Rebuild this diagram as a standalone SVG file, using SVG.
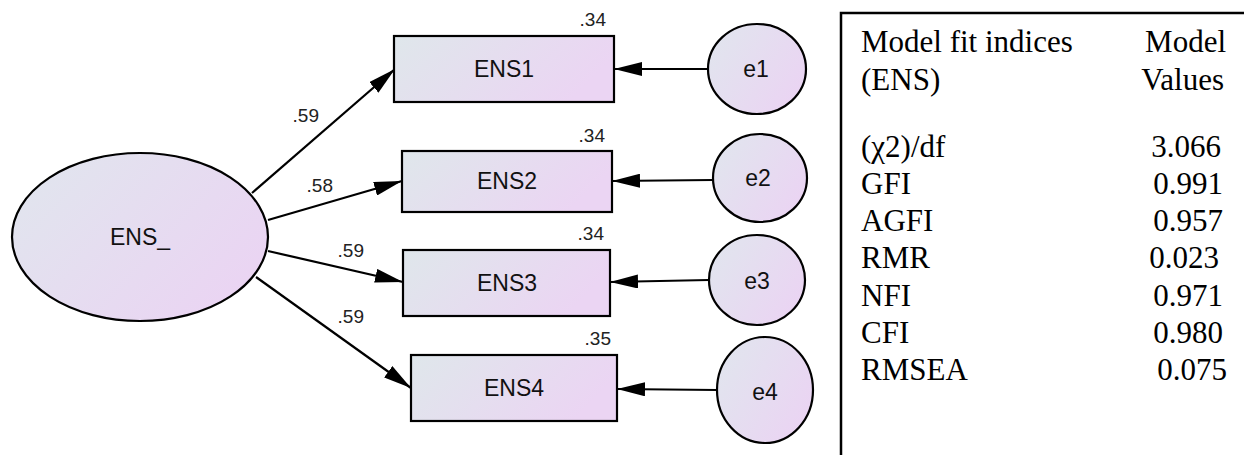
<svg xmlns="http://www.w3.org/2000/svg" width="1244" height="455" viewBox="0 0 1244 455">
<style>
.shape{stroke:#000;stroke-width:2.2}
.rect{fill:url(#gr)}
.ell{fill:url(#ge)}
.node{font-family:"Liberation Sans",Arial,sans-serif;font-size:23px;fill:#111;text-anchor:middle}
.lbl{font-family:"Liberation Sans",Arial,sans-serif;font-size:19px;fill:#222;text-anchor:end}
.conn line{stroke:#000;stroke-width:2.2;marker-end:url(#ah)}
.tbl{font-family:"Liberation Serif","Times New Roman",serif;font-size:31px;fill:#000}
.r{text-anchor:end}
</style>
<defs>
<linearGradient id="gr" x1="0" y1="0" x2="1" y2="0.3">
<stop offset="0" stop-color="#dfe7eb"/>
<stop offset="1" stop-color="#ebd5f3"/>
</linearGradient>
<linearGradient id="ge" x1="0" y1="0.2" x2="1" y2="0.8">
<stop offset="0" stop-color="#e1e5ee"/>
<stop offset="1" stop-color="#ebd3f3"/>
</linearGradient>
<marker id="ah" markerUnits="userSpaceOnUse" markerWidth="28" markerHeight="14" refX="28" refY="7" orient="auto" viewBox="0 0 28 14">
<path d="M0,0 L28,7 L0,14 z" fill="#000"/>
</marker>
</defs>
<rect width="1244" height="455" fill="#fff"/>

<g id="connectors" class="conn">
<line x1="252" y1="193" x2="395" y2="69"/>
<line x1="268" y1="220" x2="402" y2="181"/>
<line x1="268" y1="251" x2="403" y2="282"/>
<line x1="256" y1="277" x2="411" y2="388"/>
<line x1="708" y1="69" x2="614" y2="69"/>
<line x1="713" y1="180" x2="612" y2="181"/>
<line x1="709" y1="280" x2="610" y2="282"/>
<line x1="717" y1="390" x2="617" y2="389"/>
</g>

<g id="edge-labels">
<text class="lbl" x="319" y="122">.59</text>
<text class="lbl" x="333" y="192">.58</text>
<text class="lbl" x="364" y="257">.59</text>
<text class="lbl" x="364" y="323">.59</text>
</g>

<g id="ENS_">
<ellipse class="shape ell" cx="140" cy="237" rx="128" ry="84"/>
<text class="node" x="140" y="245">ENS_</text>
</g>

<g id="ENS1">
<rect class="shape rect" x="394" y="36" width="220" height="66"/>
<text class="node" x="504" y="77">ENS1</text>
<text class="lbl" x="606" y="26">.34</text>
</g>
<g id="ENS2">
<rect class="shape rect" x="402" y="151" width="210" height="61"/>
<text class="node" x="507" y="189">ENS2</text>
<text class="lbl" x="605" y="142">.34</text>
</g>
<g id="ENS3">
<rect class="shape rect" x="403" y="250" width="207" height="66"/>
<text class="node" x="507" y="291">ENS3</text>
<text class="lbl" x="604" y="240">.34</text>
</g>
<g id="ENS4">
<rect class="shape rect" x="411" y="355" width="206" height="66"/>
<text class="node" x="514" y="396">ENS4</text>
<text class="lbl" x="611" y="345">.35</text>
</g>

<g id="e1">
<ellipse class="shape ell" cx="757" cy="69" rx="49" ry="45"/>
<text class="node" x="756" y="77">e1</text>
</g>
<g id="e2">
<ellipse class="shape ell" cx="760" cy="178" rx="47" ry="44"/>
<text class="node" x="758" y="186">e2</text>
</g>
<g id="e3">
<ellipse class="shape ell" cx="757" cy="280" rx="48" ry="45"/>
<text class="node" x="757" y="289">e3</text>
</g>
<g id="e4">
<ellipse class="shape ell" cx="765" cy="390" rx="48" ry="53"/>
<text class="node" x="765" y="400">e4</text>
</g>

<g id="fit-table">
<path d="M841,455 V13 H1244" fill="none" stroke="#000" stroke-width="2.5"/>
<text class="tbl" x="861" y="52">Model fit indices</text>
<text class="tbl" x="861" y="90">(ENS)</text>
<text class="tbl r" x="1226" y="52">Model</text>
<text class="tbl r" x="1224" y="90">Values</text>
<text class="tbl" x="861" y="157">(χ2)/df</text>
<text class="tbl" x="861" y="194">GFI</text>
<text class="tbl" x="861" y="231">AGFI</text>
<text class="tbl" x="861" y="268">RMR</text>
<text class="tbl" x="861" y="306">NFI</text>
<text class="tbl" x="861" y="343">CFI</text>
<text class="tbl" x="861" y="380">RMSEA</text>
<text class="tbl r" x="1221" y="157">3.066</text>
<text class="tbl r" x="1223" y="194">0.991</text>
<text class="tbl r" x="1223" y="231">0.957</text>
<text class="tbl r" x="1219" y="268">0.023</text>
<text class="tbl r" x="1223" y="306">0.971</text>
<text class="tbl r" x="1223" y="343">0.980</text>
<text class="tbl r" x="1227" y="380">0.075</text>
</g>
</svg>
